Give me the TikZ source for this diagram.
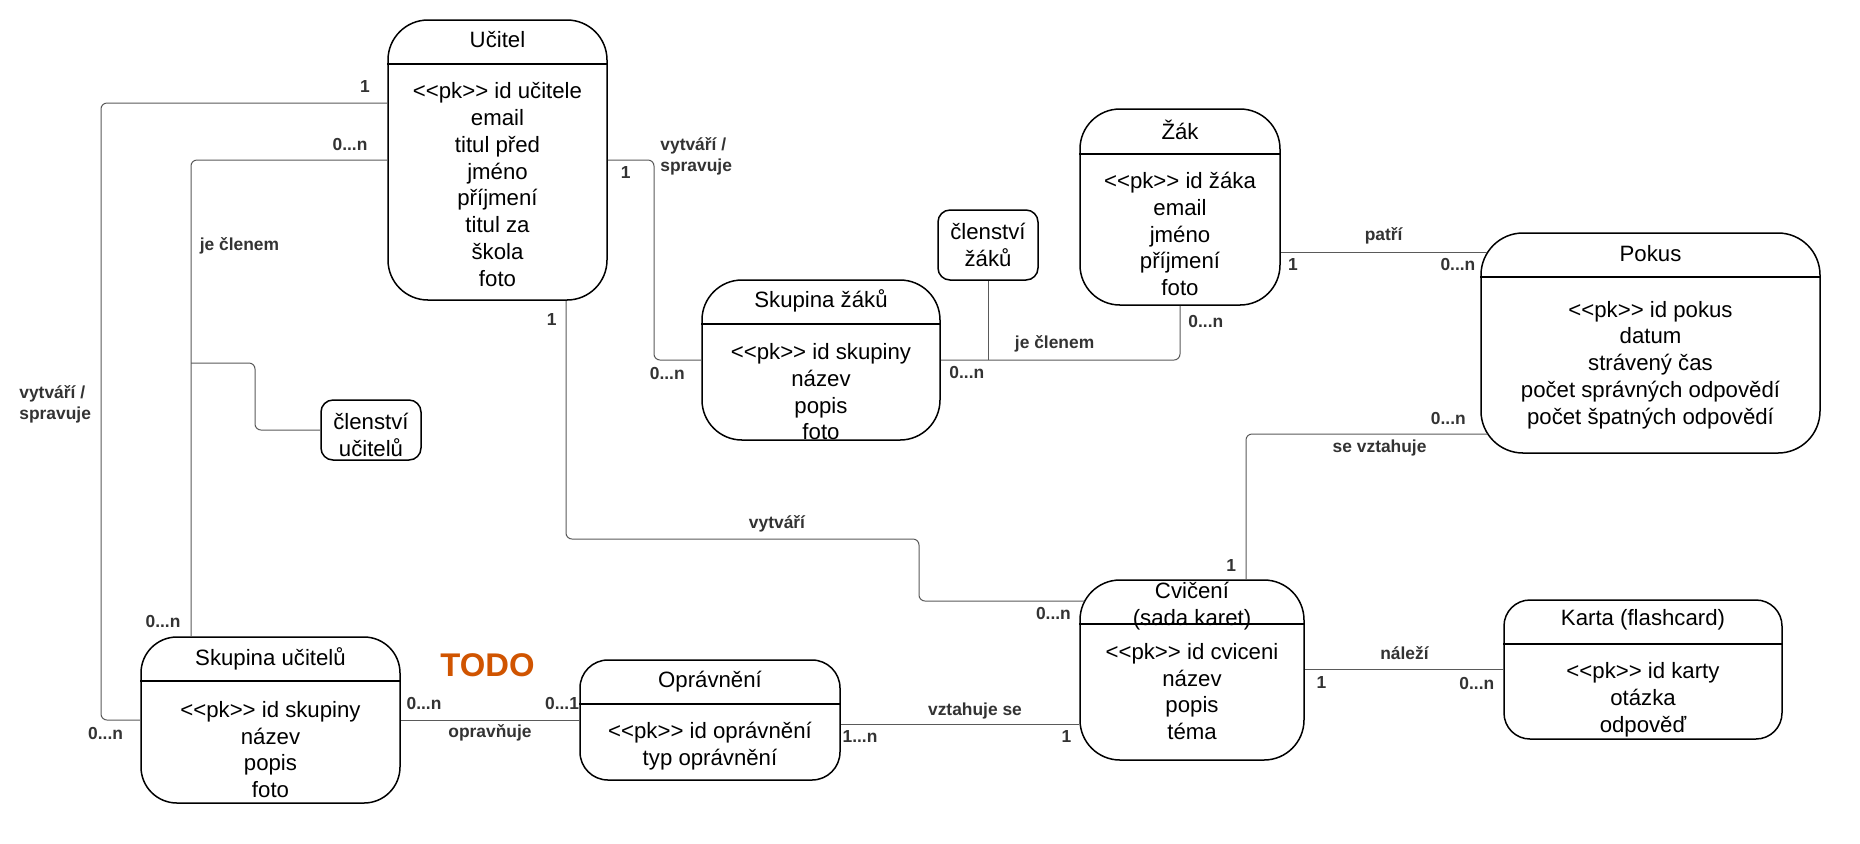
\documentclass[tikz,border=0pt]{standalone}
\usepackage{fontspec}
\setmainfont{Liberation Sans}
\usetikzlibrary{fit,calc}
\definecolor{relgray}{RGB}{90,90,90}
\definecolor{labgray}{RGB}{51,51,51}
\definecolor{todoorange}{RGB}{208,84,0}
\newcommand\pkey{<\kern0pt<pk>\kern0pt>}

\begin{document}
\begin{tikzpicture}[x=0.5pt,y=-0.5pt,
  entity/.style={draw,line width=0.75pt,inner sep=0pt,rounded corners=20pt},
  hdr/.style={line width=0.75pt},
  attr/.style={font=\fontsize{11.1}{13.4}\selectfont,align=center,inner sep=0pt},
  rel/.style={draw=relgray,line width=0.5pt,rounded corners=3pt},
  mult/.style={font=\fontsize{8.7}{10.5}\selectfont\bfseries,text=labgray,inner sep=0pt}]
  \path[use as bounding box,fill=white] (0,0) rectangle (1860,843);

  \node[entity,fit={(388,20)(607,300)}] (ucitel) {};
  \draw[hdr] (ucitel.west |- 0,64) -- (ucitel.east |- 0,64);
  \node[attr] (ucitelT) at (ucitel.north |- 0,40) {Učitel};
  \node[attr] (ucitelA) at (ucitel.north |- 0,184.5) {\pkey{} id učitele\\email\\titul před\\jméno\\příjmení\\titul za\\škola\\foto};

  \node[entity,fit={(1080,109)(1280,305)}] (zak) {};
  \draw[hdr] (zak.west |- 0,154) -- (zak.east |- 0,154);
  \node[attr] (zakT) at (zak.north |- 0,129.5) {Žák};
  \node[attr] (zakA) at (zak.north |- 0,234) {\pkey{} id žáka\\email\\jméno\\příjmení\\foto};

  \node[entity,rounded corners=21pt,fit={(1481,233)(1820,453)}] (pokus) {};
  \draw[hdr] (pokus.west |- 0,277) -- (pokus.east |- 0,277);
  \node[attr] (pokusT) at (pokus.north |- 0,254) {Pokus};
  \node[attr] (pokusA) at (pokus.north |- 0,365) {\pkey{} id pokus\\datum\\strávený čas\\počet správných odpovědí\\počet špatných odpovědí};

  \node[entity,fit={(702,280)(940,440)}] (skupZ) {};
  \draw[hdr] (skupZ.west |- 0,324) -- (skupZ.east |- 0,324);
  \node[attr] (skupZT) at (skupZ.north |- 0,300.5) {Skupina žáků};
  \node[attr] (skupZA) at (skupZ.north |- 0,391.7) {\pkey{} id skupiny\\název\\popis\\foto};

  \node[entity,rounded corners=18pt,fit={(141,637)(400,803)}] (skupU) {};
  \draw[hdr] (skupU.west |- 0,681) -- (skupU.east |- 0,681);
  \node[attr] (skupUT) at (skupU.north |- 0,659) {Skupina učitelů};
  \node[attr] (skupUA) at (skupU.north |- 0,749.5) {\pkey{} id skupiny\\název\\popis\\foto};

  \node[entity,rounded corners=14pt,fit={(580,660)(840,780)}] (oprav) {};
  \draw[hdr] (oprav.west |- 0,704) -- (oprav.east |- 0,704);
  \node[attr] (opravT) at (oprav.north |- 0,681.5) {Oprávnění};
  \node[attr] (opravA) at (oprav.north |- 0,746) {\pkey{} id oprávnění\\typ oprávnění};

  \node[entity,fit={(1080,580)(1304,760)}] (cvic) {};
  \draw[hdr] (cvic.west |- 0,624) -- (cvic.east |- 0,624);
  \node[attr] (cvicT) at (cvic.north |- 0,606) {Cvičení\\(sada karet)};
  \node[attr] (cvicA) at (cvic.north |- 0,691.5) {\pkey{} id cviceni\\název\\popis\\téma};

  \node[entity,rounded corners=13pt,fit={(1504,600)(1782,739)}] (karta) {};
  \draw[hdr] (karta.west |- 0,644) -- (karta.east |- 0,644);
  \node[attr] (kartaT) at (karta.north |- 0,620) {Karta (flashcard)};
  \node[attr] (kartaA) at (karta.north |- 0,699.5) {\pkey{} id karty\\otázka\\odpověď};

  \node[entity,rounded corners=6pt,fit={(321,400)(421,460)}] (clenU) {};
  \node[attr] (clenUT) at (clenU.north |- 0,435) {členství\\učitelů};
  \node[entity,rounded corners=6pt,fit={(938,210)(1038,280)}] (clenZ) {};
  \node[attr] (clenZT) at (clenZ.north |- 0,245) {členství\\žáků};

  \draw[rel] (ucitel.west |- 0,103) -| (101,720) -- (skupU.west);
  \draw[rel] (ucitel.west |- 0,160) -| (skupU.north -| 191,0);
  \coordinate (jeClU) at (191,363);
  \draw[rel] (jeClU) -| (255,430) -- (clenU.west);
  \draw[rel] (ucitel.east |- 0,160) -| (654,360) -- (skupZ.west);
  \draw[rel] (skupZ.east) -| (zak.south);
  \draw[rel] (clenZ.south) -- (clenZ.south |- skupZ.east);
  \draw[rel] (zak.east |- 0,252) -- ($(pokus.west |- 0,252)+(7,0)$);
  \draw[rel] (cvic.north -| 1246,0) |- ($(pokus.west |- 0,434)+(7,0)$);
  \draw[rel] (ucitel.south -| 566,0) |- (919,539) |- ($(cvic.west |- 0,601)+(5,0)$);
  \draw[rel] (skupU.east) -- (oprav.west);
  \draw[rel] (oprav.east |- 0,724) -- (cvic.west |- 0,724);
  \draw[rel] (cvic.east |- karta.west) -- (karta.west);

  \node[mult] (mUcSpr) at (365,87) {1};
  \node[mult] (mSkSpr) at (105.6,733) {0...n};
  \node[mult,anchor=west,align=left] (lSprU) at (19,404) {vytváří /\\spravuje};
  \node[mult] (mUcCl) at (350,144) {0...n};
  \node[mult] (mSkCl) at (163,621) {0...n};
  \node[mult] (lClU) at (239.5,245.6) {je členem};
  \node[mult] (mUcZ) at (625.7,172.7) {1};
  \node[mult,anchor=west,align=left] (lSprZ) at (660,156.3) {vytváří /\\spravuje};
  \node[mult] (mSkZ) at (667.3,373.3) {0...n};
  \node[mult] (mSkZak) at (966.8,372.7) {0...n};
  \node[mult] (lClZ) at (1054.6,343.3) {je členem};
  \node[mult] (mZakSk) at (1205.8,321.7) {0...n};
  \node[mult] (lPatri) at (1383.7,236) {patří};
  \node[mult] (mZakP) at (1293,264.3) {1};
  \node[mult] (mPokZ) at (1457.9,264.3) {0...n};
  \node[mult] (mCvP) at (1231.3,565) {1};
  \node[mult] (lVzt) at (1379.6,447.7) {se vztahuje};
  \node[mult] (mPokC) at (1448.3,418.3) {0...n};
  \node[mult] (mUcCv) at (551.6,319.3) {1};
  \node[mult] (lVytv) at (777,523.3) {vytváří};
  \node[mult] (mCvUc) at (1053.4,613.3) {0...n};
  \node[mult] (mSkOp) at (424,703) {0...n};
  \node[mult] (mOpSk) at (562,703) {0...1};
  \node[mult] (lOpr) at (490,732.7) {opravňuje};
  \node[mult] (mOpCv) at (860,736.7) {1...n};
  \node[mult] (lVztSe) at (975,710.5) {vztahuje se};
  \node[mult] (mCvOp) at (1066.4,736) {1};
  \node[mult] (lNalezi) at (1404.5,653.3) {náleží};
  \node[mult] (mCvK) at (1321.5,682.7) {1};
  \node[mult] (mKCv) at (1476.8,683.3) {0...n};
  \node[font=\fontsize{16.4}{19}\selectfont\bfseries,text=todoorange,inner sep=0pt] (todo) at (487.5,665) {TODO};
\end{tikzpicture}
\end{document}
